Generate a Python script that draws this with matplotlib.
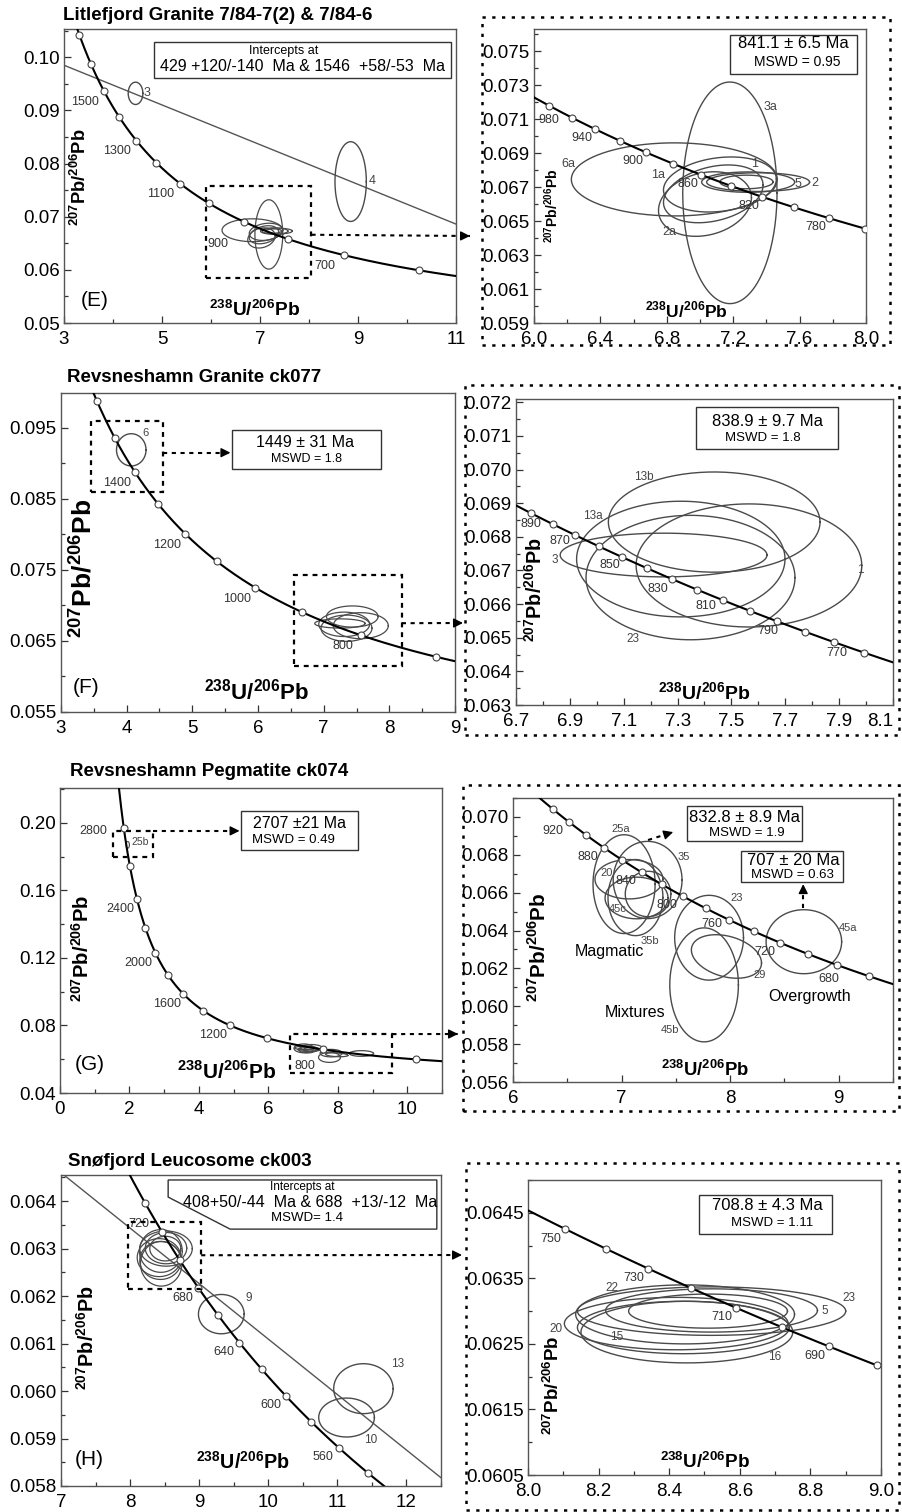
import numpy as np
import matplotlib
matplotlib.use('Agg')
import matplotlib.pyplot as plt
from matplotlib.patches import Rectangle, Polygon, FancyArrowPatch
from matplotlib.lines import Line2D
from matplotlib.ticker import FormatStrFormatter

plt.rcParams['font.family'] = ['Liberation Sans', 'DejaVu Sans']
plt.rcParams['mathtext.fontset'] = 'custom'
plt.rcParams['mathtext.rm'] = 'Liberation Sans'
plt.rcParams['mathtext.bf'] = 'Liberation Sans:bold'

# ---------------- data ----------------
# (E) Litlefjord Granite
E_title = 'Litlefjord Granite 7/84-7(2) & 7/84-6'
E_left_ages = [600, 700, 800, 900, 1000, 1100, 1200, 1300, 1400, 1500, 1600, 1700]
E_left_age_labels = [700, 900, 1100, 1300, 1500]
E_right_ages = [760, 780, 800, 820, 840, 860, 880, 900, 920, 940, 960, 980]
E_right_age_labels = [780, 820, 860, 900, 940, 980]
E_intercepts = [429, 1546]
E_spots = ['6a', '3a', '1', '1a', '2a', '5', '2', '']
E_x = [6.845, 7.18, 7.12, 7.08, 7.03, 7.29, 7.35, 7.28]
E_y = [0.06745, 0.06666, 0.06715, 0.0666, 0.0660, 0.06729, 0.06729, 0.0673]
E_sx = [0.62, 0.284, 0.34, 0.30, 0.28, 0.28, 0.31, 0.16]
E_sy = [0.00215, 0.00652, 0.00162, 0.0017, 0.0019, 0.0006, 0.00055, 0.0004]
E_rho = [0.0, 0.0, 0.2, 0.3, 0.2, 0.0, 0.0, 0.0]
E_disc_spots = ['3', '4']
E_disc_x = [4.46, 8.85]
E_disc_y = [0.0932, 0.0766]
E_disc_sx = [0.15, 0.32]
E_disc_sy = [0.0021, 0.0075]
E_intercept_text = ['Intercepts at', '429 +120/-140  Ma & 1546  +58/-53  Ma']
E_age_text = ['841.1 ± 6.5 Ma', 'MSWD = 0.95']

# (F) Revsneshamn Granite
F_title = 'Revsneshamn Granite ck077'
F_left_ages = [700, 800, 900, 1000, 1100, 1200, 1300, 1400, 1500, 1600]
F_left_age_labels = [800, 1000, 1200, 1400]
F_right_ages = [760, 770, 780, 790, 800, 810, 820, 830, 840, 850, 860, 870, 880, 890]
F_right_age_labels = [770, 790, 810, 830, 850, 870, 890]
F_spots = ['13b', '13a', '3', '1', '23']
F_x = [7.436, 7.312, 7.248, 7.565, 7.348]
F_y = [0.06844, 0.06734, 0.06746, 0.06715, 0.06679]
F_sx = [0.393, 0.387, 0.384, 0.419, 0.388]
F_sy = [0.00149, 0.00172, 0.00065, 0.00183, 0.00185]
F_old_spots = ['6']
F_old_x = [4.07]
F_old_y = [0.0919]
F_old_sx = [0.225]
F_old_sy = [0.00227]
F_old_text = ['1449 ± 31 Ma', 'MSWD = 1.8']
F_age_text = ['838.9 ± 9.7 Ma', 'MSWD = 1.8']

# (G) Revsneshamn Pegmatite
G_title = 'Revsneshamn Pegmatite ck074'
G_left_ages = [600, 800, 1000, 1200, 1400, 1600, 1800, 2000, 2200, 2400, 2600, 2800]
G_left_age_labels = [800, 1200, 1600, 2000, 2400, 2800]
G_right_ages = [660, 680, 700, 720, 740, 760, 780, 800, 820, 840, 860, 880, 900, 920, 940]
G_right_age_labels = [680, 720, 760, 800, 840, 880, 920]
G_spots = ['25a', '35', '20', '45c', '35b', '', '23', '29', '45b', '45a']
G_x = [7.023, 7.24, 7.068, 7.138, 7.128, 7.244, 7.806, 7.966, 7.76, 8.679]
G_y = [0.06645, 0.06667, 0.06671, 0.06572, 0.06574, 0.06593, 0.06362, 0.06263, 0.06113, 0.06341]
G_sx = [0.286, 0.317, 0.313, 0.29, 0.253, 0.21, 0.317, 0.323, 0.316, 0.348]
G_sy = [0.00261, 0.00204, 0.00104, 0.0011, 0.00201, 0.0012, 0.00224, 0.00115, 0.00301, 0.00169]
G_rho = [0, 0, 0, 0, 0, 0, 0, -0.3, 0, 0]
G_old_spots = ['25b']
G_old_x = [1.95]
G_old_y = [0.187]
G_old_sx = [0.05]
G_old_sy = [0.002]
G_old_text = ['2707 ±21 Ma', 'MSWD = 0.49']
G_magmatic_text = ['832.8 ± 8.9 Ma', 'MSWD = 1.9']
G_overgrowth_text = ['707 ± 20 Ma', 'MSWD = 0.63']
G_groups = ['Magmatic', 'Mixtures', 'Overgrowth']

# (H) Snøfjord Leucosome
H_title = 'Snøfjord Leucosome ck003'
H_left_ages = [540, 560, 580, 600, 620, 640, 660, 680, 700, 720, 740]
H_left_age_labels = [560, 600, 640, 680, 720]
H_right_ages = [680, 690, 700, 710, 720, 730, 740, 750]
H_right_age_labels = [690, 710, 730, 750]
H_intercepts = [408, 688]
H_spots = ['23', '5', '', '22', '20', '15', '16']
H_x = [8.52, 8.52, 8.51, 8.445, 8.42, 8.44, 8.45]
H_y = [0.06300, 0.06301, 0.06300, 0.06295, 0.06281, 0.06275, 0.06268]
H_sx = [0.38, 0.30, 0.225, 0.31, 0.317, 0.30, 0.30]
H_sy = [0.00037, 0.00033, 0.00026, 0.00045, 0.00040, 0.00040, 0.00047]
H_disc_spots = ['9', '13', '10']
H_disc_x = [9.32, 11.377, 11.133]
H_disc_y = [0.06162, 0.06005, 0.059442]
H_disc_sx = [0.331, 0.43, 0.403]
H_disc_sy = [0.000414, 0.000526, 0.00041]
H_intercept_text = ['Intercepts at', '408+50/-44  Ma & 688  +13/-12  Ma', 'MSWD= 1.4']
H_age_text = ['708.8 ± 4.3 Ma', 'MSWD = 1.11']

# tick labels
E_left_xt = [3, 5, 7, 9, 11]
E_left_yt = [0.05, 0.06, 0.07, 0.08, 0.09, 0.10]
E_right_xt = [6.0, 6.4, 6.8, 7.2, 7.6, 8.0]
E_right_yt = [0.059, 0.061, 0.063, 0.065, 0.067, 0.069, 0.071, 0.073, 0.075]
F_left_xt = [3, 4, 5, 6, 7, 8, 9]
F_left_yt = [0.055, 0.065, 0.075, 0.085, 0.095]
F_right_xt = [6.7, 6.9, 7.1, 7.3, 7.5, 7.7, 7.9, 8.1]
F_right_yt = [0.063, 0.064, 0.065, 0.066, 0.067, 0.068, 0.069, 0.070, 0.071, 0.072]
G_left_xt = [0, 2, 4, 6, 8, 10]
G_left_yt = [0.04, 0.08, 0.12, 0.16, 0.20]
G_right_xt = [6, 7, 8, 9]
G_right_yt = [0.056, 0.058, 0.060, 0.062, 0.064, 0.066, 0.068, 0.070]
H_left_xt = [7, 8, 9, 10, 11, 12]
H_left_yt = [0.058, 0.059, 0.060, 0.061, 0.062, 0.063, 0.064]
H_right_xt = [8.0, 8.2, 8.4, 8.6, 8.8, 9.0]
H_right_yt = [0.0605, 0.0615, 0.0625, 0.0635, 0.0645]

# ---------------- helpers ----------------
L238 = 1.55125e-10
L235 = 9.8485e-10
U85 = 137.88
T_CURVE = np.linspace(300, 3400, 9000)

W, H = 902, 1512
fig = plt.figure(figsize=(W / 100, H / 100), dpi=100)

XLAB = r'$^{\mathbf{238}}\mathbf{U/}^{\mathbf{206}}\mathbf{Pb}$'
YLAB = r'$^{\mathbf{207}}\mathbf{Pb/}^{\mathbf{206}}\mathbf{Pb}$'
ELL_COLOR = '#4a4a4a'


def concordia(t_ma):
    t = np.asarray(t_ma, dtype=float) * 1e6
    e8 = np.exp(L238 * t) - 1
    e5 = np.exp(L235 * t) - 1
    return 1 / e8, e5 / e8 / U85


def px_axes(left, top, right, bottom):
    return fig.add_axes([left / W, 1 - bottom / H, (right - left) / W, (bottom - top) / H])


def fig_px(x, y):
    return (x / W, 1 - y / H)


def data_to_fig(ax, x, y):
    return tuple(fig.transFigure.inverted().transform(ax.transData.transform((x, y))))


def setup(ax, xlim, ylim, xt, yt, xminor, yminor, xfmt, yfmt):
    ax.set_xlim(*xlim)
    ax.set_ylim(*ylim)
    ax.set_xticks(xt)
    ax.set_yticks(yt)
    ax.set_xticks(xminor, minor=True)
    ax.set_yticks(yminor, minor=True)
    ax.xaxis.set_major_formatter(FormatStrFormatter(xfmt))
    ax.yaxis.set_major_formatter(FormatStrFormatter(yfmt))
    ax.tick_params(which='both', direction='in', color='#333', width=0.9,
                   labelsize=13.5)
    ax.tick_params(axis='x', pad=5.5)
    ax.tick_params(axis='y', pad=3)
    ax.tick_params(which='major', length=5)
    ax.tick_params(which='minor', length=3)
    for s in ax.spines.values():
        s.set_linewidth(1.0)
        s.set_color('#555')


def axis_names(ax, xpos, ypos, xsize, ysize):
    ax.text(xpos[0], xpos[1], XLAB, transform=ax.transAxes, ha='center', va='center',
            fontsize=xsize)
    ax.text(ypos[0], ypos[1], YLAB, transform=ax.transAxes, ha='center', va='center',
            fontsize=ysize, rotation=90)


def draw_concordia(ax, ages, label_ages, offset, overrides=None):
    overrides = overrides or {}
    cx, cy = concordia(T_CURVE)
    ax.plot(cx, cy, color='black', lw=1.5, zorder=3)
    mx, my = concordia(ages)
    ax.plot(mx, my, 'o', ms=5, mfc='white', mec='#444', mew=0.8, zorder=4)
    for age in label_ages:
        x, y = concordia(age)
        ax.annotate(str(age), (x, y), xytext=overrides.get(age, offset),
                    textcoords='offset points', ha='center', va='center',
                    fontsize=9, color='#333', zorder=5)


def draw_ellipses(ax, xs, ys, sxs, sys_, rhos=None, lw=1.0):
    t = np.linspace(0, 2 * np.pi, 240)
    if rhos is None:
        rhos = [0.0] * len(xs)
    for x, y, sx, sy, r in zip(xs, ys, sxs, sys_, rhos):
        ex = x + sx * np.cos(t)
        ey = y + sy * (r * np.cos(t) + np.sqrt(1 - r * r) * np.sin(t))
        ax.plot(ex, ey, color=ELL_COLOR, lw=lw, zorder=2)


def spot_labels(ax, names, positions, size=8):
    for name, (x, y) in zip(names, positions):
        if name:
            ax.text(x, y, name, fontsize=size, color='#444', ha='center', va='center', zorder=5)


def discordia(ax, ages):
    (x1, x2), (y1, y2) = concordia(ages)
    slope = (y2 - y1) / (x2 - x1)
    xl = np.array(ax.get_xlim())
    ax.plot(xl, y1 + slope * (xl - x1), color='#555', lw=1.0, zorder=2)


def dashed_box(ax, x0, y0, x1, y1):
    ax.add_patch(Rectangle((x0, y0), x1 - x0, y1 - y0, fill=False, ec='black',
                           lw=1.6, ls=(0, (2.2, 2.2)), zorder=6))


def text_box(ax, x0, y0, x1, y1, trans):
    ax.add_patch(Rectangle((x0, y0), x1 - x0, y1 - y0, transform=trans, fc='white',
                           ec='#333', lw=1.0, zorder=6))


def dotted_arrow(start, end):
    fig.add_artist(Line2D([start[0], end[0]], [start[1], end[1]], transform=fig.transFigure,
                          color='black', lw=1.5, ls=(0, (2, 2.2))))
    vx, vy = (end[0] - start[0]) * W, (end[1] - start[1]) * H
    n = np.hypot(vx, vy)
    a = (end[0] - 9 * vx / n / W, end[1] - 9 * vy / n / H)
    fig.add_artist(FancyArrowPatch(a, end, transform=fig.transFigure, arrowstyle='-|>',
                                   mutation_scale=14, color='black', lw=1, shrinkA=0, shrinkB=0))


def outer_box(x0, y0, x1, y1):
    fig.add_artist(Rectangle((x0 / W, 1 - y1 / H), (x1 - x0) / W, (y1 - y0) / H,
                             transform=fig.transFigure, fill=False, ec='black', lw=1.8,
                             ls=(0, (1.3, 2.6))))


def title(x, y, s):
    fig.text(x / W, 1 - y / H, s, fontsize=13.5, fontweight='bold', ha='left', va='center')


# ---------------- panel E ----------------
title(63, 15, E_title)
axE = px_axes(64, 29, 456, 323)
setup(axE, (3, 11), (0.05, 0.1053), E_left_xt, E_left_yt, np.arange(3, 11.1, 1),
      np.arange(0.05, 0.1051, 0.005), '%d', '%.2f')
discordia(axE, E_intercepts)
draw_ellipses(axE, E_x, E_y, E_sx, E_sy, E_rho, lw=0.9)
draw_ellipses(axE, E_disc_x, E_disc_y, E_disc_sx, E_disc_sy)
spot_labels(axE, E_disc_spots, [(4.69, 0.0932), (9.29, 0.0768)], size=9)
draw_concordia(axE, E_left_ages, E_left_age_labels, (-14, -7.5), {900: (-18.5, -16)})
dashed_box(axE, 5.9, 0.0585, 8.05, 0.0757)
text_box(axE, 0.23, 0.833, 0.987, 0.956, axE.transAxes)
axE.text(0.56, 0.925, E_intercept_text[0], transform=axE.transAxes, ha='center', va='center',
         fontsize=9, zorder=7)
axE.text(0.608, 0.871, E_intercept_text[1], transform=axE.transAxes, ha='center', va='center',
         fontsize=11.5, zorder=7)
axis_names(axE, (0.487, 0.044), (0.041, 0.497), 13.8, 13.2)
axE.text(0.079, 0.078, '(E)', transform=axE.transAxes, ha='center', va='center', fontsize=15)

axE2 = px_axes(534, 29, 866, 323)
setup(axE2, (6.0, 8.0), (0.059, 0.0763), E_right_xt, E_right_yt, np.arange(6.0, 8.01, 0.2),
      np.arange(0.059, 0.0763, 0.001), '%.1f', '%.3f')
draw_ellipses(axE2, E_x, E_y, E_sx, E_sy, E_rho)
spot_labels(axE2, E_spots, [(6.207, 0.06837), (7.422, 0.07171), (7.331, 0.06833),
                            (6.749, 0.06769), (6.815, 0.06435), (7.592, 0.0672),
                            (7.693, 0.06724), (0, 0)], size=9)
draw_concordia(axE2, E_right_ages, E_right_age_labels, (-9.5, -6.5), {980: (0, -10.5)})
text_box(axE2, 0.59, 0.847, 0.973, 0.98, axE2.transAxes)
axE2.text(0.78, 0.949, E_age_text[0], transform=axE2.transAxes, ha='center', va='center',
          fontsize=12, zorder=7)
axE2.text(0.792, 0.888, E_age_text[1], transform=axE2.transAxes, ha='center', va='center',
          fontsize=10, zorder=7)
axis_names(axE2, (0.46, 0.044), (0.054, 0.40), 12.5, 10)
outer_box(482, 17, 890, 345)
dotted_arrow(data_to_fig(axE, 8.05, 0.0666), fig_px(470, 236))

# ---------------- panel F ----------------
title(67, 378, F_title)
axF = px_axes(61, 393, 455, 712)
setup(axF, (3, 9), (0.055, 0.0999), F_left_xt, F_left_yt, np.arange(3, 9.01, 0.5),
      np.arange(0.055, 0.1, 0.005), '%d', '%.3f')
draw_ellipses(axF, F_x, F_y, F_sx, F_sy, lw=0.9)
draw_ellipses(axF, F_old_x, F_old_y, F_old_sx, F_old_sy)
spot_labels(axF, F_old_spots, [(4.29, 0.0942)], size=8)
draw_concordia(axF, F_left_ages, F_left_age_labels, (-13, -8))
dashed_box(axF, 3.45, 0.086, 4.55, 0.096)
dashed_box(axF, 6.55, 0.0615, 8.19, 0.0743)
text_box(axF, 5.6, 0.0892, 7.87, 0.0947, axF.transData)
axF.text(6.71, 0.0930, F_old_text[0], ha='center', va='center', fontsize=11.5, zorder=7)
axF.text(6.74, 0.0906, F_old_text[1], ha='center', va='center', fontsize=9, zorder=7)
dotted_arrow(data_to_fig(axF, 4.55, 0.0915), data_to_fig(axF, 5.58, 0.0915))
axis_names(axF, (0.497, 0.063), (0.053, 0.45), 16, 19)
axF.text(0.063, 0.078, '(F)', transform=axF.transAxes, ha='center', va='center', fontsize=15)

axF2 = px_axes(516, 399, 893, 705)
setup(axF2, (6.7, 8.1), (0.063, 0.0721), F_right_xt, F_right_yt, np.arange(6.7, 8.11, 0.1),
      np.arange(0.063, 0.0721, 0.0005), '%.1f', '%.3f')
axF2.get_xticklabels()[-1].set_horizontalalignment('right')
draw_ellipses(axF2, F_x, F_y, F_sx, F_sy)
spot_labels(axF2, F_spots, [(7.173, 0.06977), (6.987, 0.06863), (6.845, 0.0673),
                            (7.979, 0.0670), (7.136, 0.06497)], size=8.5)
draw_concordia(axF2, F_right_ages, F_right_age_labels, (-7, -6.5),
               {890: (0, -8), 870: (-11, -4), 850: (-9, -5.5), 830: (-10, -7),
                810: (-12, -4), 790: (-7, -7), 770: (2, -8)})
text_box(axF2, 0.477, 0.837, 0.854, 0.974, axF2.transAxes)
axF2.text(0.666, 0.928, F_age_text[0], transform=axF2.transAxes, ha='center', va='center',
          fontsize=12, zorder=7)
axF2.text(0.655, 0.873, F_age_text[1], transform=axF2.transAxes, ha='center', va='center',
          fontsize=9.5, zorder=7)
axis_names(axF2, (0.50, 0.04), (0.05, 0.376), 14, 14.2)
outer_box(465, 385, 899, 735)
dotted_arrow(data_to_fig(axF, 8.19, 0.0675), fig_px(463, 623))

# ---------------- panel G ----------------
title(70, 772, G_title)
axG = px_axes(60, 788, 442, 1093)
setup(axG, (0, 11), (0.04, 0.2207), G_left_xt, G_left_yt, np.arange(0, 11.01, 1),
      np.arange(0.04, 0.221, 0.02), '%d', '%.2f')
draw_ellipses(axG, G_x, G_y, G_sx, G_sy, G_rho, lw=0.9)
draw_ellipses(axG, G_old_x, G_old_y, G_old_sx, G_old_sy, lw=0.8)
spot_labels(axG, G_old_spots, [(2.31, 0.1887)], size=7.5)
draw_concordia(axG, G_left_ages, G_left_age_labels, (-12, -7), {2800: (-22, -2), 800: (-12.7, -12)})
dashed_box(axG, 1.53, 0.1799, 2.69, 0.1953)
dashed_box(axG, 6.63, 0.0518, 9.57, 0.0749)
text_box(axG, 5.2, 0.184, 8.58, 0.2071, axG.transData)
axG.text(6.91, 0.1994, G_old_text[0], ha='center', va='center', fontsize=11.5, zorder=7)
axG.text(6.73, 0.1900, G_old_text[1], ha='center', va='center', fontsize=9.5, zorder=7)
dotted_arrow(data_to_fig(axG, 2.69, 0.1953), data_to_fig(axG, 5.17, 0.1953))
axis_names(axG, (0.437, 0.069), (0.057, 0.475), 15, 14.6)
axG.text(0.079, 0.092, '(G)', transform=axG.transAxes, ha='center', va='center', fontsize=15)

axG2 = px_axes(513, 798, 893, 1082)
setup(axG2, (6, 9.5), (0.0562, 0.0710), G_right_xt, G_right_yt, np.arange(6, 9.51, 0.5),
      np.arange(0.056, 0.0711, 0.001), '%d', '%.3f')
draw_ellipses(axG2, G_x, G_y, G_sx, G_sy, G_rho)
spot_labels(axG2, G_spots, [(6.992, 0.06934), (7.573, 0.06786), (6.86, 0.06704),
                            (6.968, 0.06513), (7.26, 0.06346), (0, 0), (8.058, 0.06574),
                            (8.267, 0.06165), (7.45, 0.05873), (9.088, 0.06416)], size=8)
draw_concordia(axG2, G_right_ages, G_right_age_labels, (-11.5, -6.5),
               {680: (-6, -10), 760: (-12.7, -3)})
text_box(axG2, 7.607, 0.06873, 8.664, 0.07059, axG2.transData)
axG2.text(8.135, 0.06995, G_magmatic_text[0], ha='center', va='center', fontsize=12, zorder=7)
axG2.text(8.157, 0.06917, G_magmatic_text[1], ha='center', va='center', fontsize=9.5, zorder=7)
text_box(axG2, 8.104, 0.06656, 9.041, 0.06821, axG2.transData)
axG2.text(8.58, 0.06769, G_overgrowth_text[0], ha='center', va='center', fontsize=12, zorder=7)
axG2.text(8.571, 0.06694, G_overgrowth_text[1], ha='center', va='center', fontsize=9.5, zorder=7)
for name, pos in zip(G_groups, [(6.885, 0.0629), (7.128, 0.05969), (8.734, 0.06052)]):
    axG2.text(pos[0], pos[1], name, ha='center', va='center', fontsize=11.5, zorder=7)
dotted_arrow(data_to_fig(axG2, 7.244, 0.06878), data_to_fig(axG2, 7.475, 0.0692))
dotted_arrow(data_to_fig(axG2, 8.673, 0.06517), data_to_fig(axG2, 8.673, 0.06645))
axis_names(axG2, (0.505, 0.042), (0.066, 0.475), 13.3, 14.9)
outer_box(463, 785, 899, 1111)
dotted_arrow(data_to_fig(axG, 9.57, 0.0749), fig_px(458, 1034))

# ---------------- panel H ----------------
title(68, 1161, H_title)
axH = px_axes(61, 1175, 441, 1486)
setup(axH, (7, 12.5), (0.058, 0.06455), H_left_xt, H_left_yt, np.arange(7, 12.51, 0.5),
      np.arange(0.058, 0.06456, 0.0005), '%d', '%.3f')
discordia(axH, H_intercepts)
draw_ellipses(axH, H_x, H_y, H_sx, H_sy, lw=0.9)
draw_ellipses(axH, H_disc_x, H_disc_y, H_disc_sx, H_disc_sy)
spot_labels(axH, H_disc_spots, [(9.72, 0.06196), (11.87, 0.06057), (11.48, 0.05897)], size=8.5)
draw_concordia(axH, H_left_ages, H_left_age_labels, (-11, -7), {720: (-16.5, 6)})
dashed_box(axH, 7.966, 0.06214, 9.029, 0.063558)
axH.add_patch(Polygon([(0.282, 0.984), (0.989, 0.984), (0.989, 0.826), (0.445, 0.826),
                       (0.282, 0.929)], closed=True, transform=axH.transAxes, fc='white',
                      ec='#333', lw=1.0, zorder=6))
axH.text(0.634, 0.963, H_intercept_text[0], transform=axH.transAxes, ha='center', va='center',
         fontsize=8.5, zorder=7)
axH.text(0.655, 0.913, H_intercept_text[1], transform=axH.transAxes, ha='center', va='center',
         fontsize=11.5, zorder=7)
axH.text(0.647, 0.862, H_intercept_text[2], transform=axH.transAxes, ha='center', va='center',
         fontsize=9.5, zorder=7)
axis_names(axH, (0.479, 0.077), (0.068, 0.476), 14.2, 14.2)
axH.text(0.074, 0.084, '(H)', transform=axH.transAxes, ha='center', va='center', fontsize=15)

axH2 = px_axes(528, 1180, 881, 1475)
setup(axH2, (8.0, 9.0), (0.0605, 0.06497), H_right_xt, H_right_yt, np.arange(8.0, 9.01, 0.1),
      np.arange(0.0605, 0.0650, 0.0005), '%.1f', '%.4f')
draw_ellipses(axH2, H_x, H_y, H_sx, H_sy)
spot_labels(axH2, H_spots, [(8.908, 0.0632), (8.842, 0.0630), (0, 0), (8.237, 0.06336),
                            (8.08, 0.06273), (8.251, 0.0626), (8.70, 0.0623)], size=8.5)
draw_concordia(axH2, H_right_ages, H_right_age_labels, (-10, -7))
text_box(axH2, 0.484, 0.817, 0.861, 0.949, axH2.transAxes)
axH2.text(0.677, 0.915, H_age_text[0], transform=axH2.transAxes, ha='center', va='center',
          fontsize=12, zorder=7)
axH2.text(0.691, 0.854, H_age_text[1], transform=axH2.transAxes, ha='center', va='center',
          fontsize=9.5, zorder=7)
axis_names(axH2, (0.50, 0.044), (0.071, 0.305), 13.6, 13.5)
outer_box(466, 1163, 899, 1510)
dotted_arrow(data_to_fig(axH, 9.029, 0.06286), fig_px(462, 1255))

fig.savefig('out.png', dpi=100)
